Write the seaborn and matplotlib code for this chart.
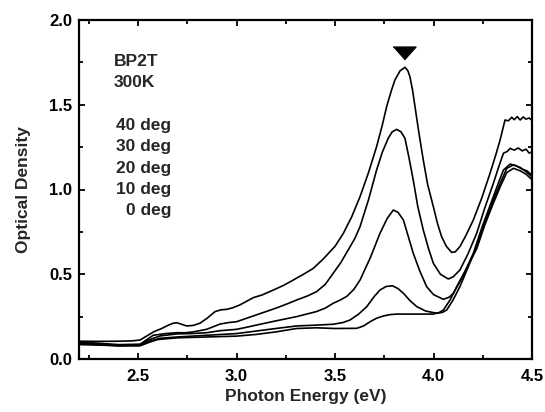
import numpy as np
import pandas as pd
import seaborn as sns
import matplotlib.pyplot as plt
from matplotlib.ticker import MultipleLocator

# values (photon energy in eV, optical density)
e_40 = [2.20, 2.30, 2.40, 2.47, 2.51, 2.55, 2.58, 2.62, 2.645, 2.675, 2.696, 2.72, 2.747,
        2.78, 2.814, 2.85, 2.89, 2.92, 2.95, 2.98, 3.017, 3.05, 3.085, 3.13, 3.187, 3.24,
        3.288, 3.34, 3.39, 3.44, 3.50, 3.542, 3.585, 3.627, 3.67, 3.711, 3.74, 3.762,
        3.785, 3.804, 3.83, 3.855, 3.87, 3.88, 3.893, 3.906, 3.925, 3.948, 3.97, 3.999,
        4.02, 4.041, 4.065, 4.092, 4.11, 4.134, 4.165, 4.202, 4.245, 4.287, 4.315, 4.338,
        4.363, 4.38, 4.397, 4.41, 4.425, 4.44, 4.455, 4.47, 4.485, 4.498]
od_40 = [0.105, 0.104, 0.105, 0.107, 0.112, 0.14, 0.161, 0.18, 0.195, 0.21, 0.214, 0.205,
         0.195, 0.198, 0.211, 0.24, 0.279, 0.29, 0.293, 0.302, 0.319, 0.34, 0.362, 0.378,
         0.407, 0.435, 0.466, 0.50, 0.535, 0.59, 0.665, 0.741, 0.84, 0.958, 1.10, 1.253,
         1.38, 1.489, 1.58, 1.646, 1.70, 1.721, 1.70, 1.666, 1.59, 1.489, 1.34, 1.174,
         1.03, 0.899, 0.80, 0.722, 0.665, 0.629, 0.632, 0.663, 0.73, 0.820, 0.95, 1.096,
         1.20, 1.292, 1.410, 1.405, 1.426, 1.412, 1.430, 1.410, 1.428, 1.415, 1.422, 1.410]

e_30 = [2.20, 2.30, 2.40, 2.51, 2.545, 2.577, 2.64, 2.696, 2.74, 2.78, 2.848, 2.916, 2.96,
        3.0, 3.05, 3.1, 3.15, 3.2, 3.25, 3.305, 3.36, 3.406, 3.45, 3.491, 3.53, 3.56, 3.6,
        3.627, 3.67, 3.711, 3.74, 3.77, 3.79, 3.813, 3.835, 3.855, 3.875, 3.897, 3.92,
        3.948, 3.975, 3.999, 4.035, 4.075, 4.10, 4.134, 4.175, 4.219, 4.26, 4.304, 4.33,
        4.355, 4.375, 4.389, 4.41, 4.43, 4.45, 4.47, 4.485, 4.498]
od_30 = [0.10, 0.093, 0.085, 0.087, 0.115, 0.14, 0.15, 0.155, 0.155, 0.16, 0.175, 0.206,
         0.215, 0.22, 0.24, 0.26, 0.28, 0.30, 0.322, 0.348, 0.372, 0.397, 0.44, 0.506,
         0.57, 0.63, 0.71, 0.781, 0.94, 1.115, 1.22, 1.302, 1.34, 1.355, 1.34, 1.302,
         1.19, 1.056, 0.90, 0.761, 0.65, 0.565, 0.50, 0.472, 0.485, 0.525, 0.62, 0.741,
         0.89, 1.037, 1.13, 1.214, 1.225, 1.243, 1.232, 1.245, 1.228, 1.238, 1.215, 1.220]

e_20 = [2.20, 2.30, 2.40, 2.51, 2.56, 2.611, 2.696, 2.77, 2.848, 2.916, 3.0, 3.05, 3.1,
        3.2, 3.305, 3.406, 3.45, 3.491, 3.53, 3.56, 3.595, 3.627, 3.68, 3.728, 3.765,
        3.796, 3.82, 3.847, 3.87, 3.897, 3.93, 3.965, 4.0, 4.05, 4.08, 4.101, 4.15, 4.202,
        4.25, 4.304, 4.33, 4.355, 4.389, 4.42, 4.45, 4.475, 4.498]
od_20 = [0.095, 0.088, 0.08, 0.085, 0.115, 0.136, 0.148, 0.15, 0.155, 0.167, 0.175, 0.187,
         0.20, 0.225, 0.25, 0.28, 0.30, 0.329, 0.35, 0.37, 0.41, 0.466, 0.60, 0.741, 0.83,
         0.879, 0.865, 0.820, 0.73, 0.624, 0.52, 0.427, 0.38, 0.352, 0.365, 0.388, 0.49,
         0.624, 0.79, 0.958, 1.04, 1.115, 1.150, 1.14, 1.12, 1.11, 1.086]

e_10 = [2.20, 2.30, 2.40, 2.51, 2.56, 2.61, 2.70, 2.85, 3.0, 3.1, 3.2, 3.305, 3.406, 3.49,
        3.54, 3.576, 3.62, 3.661, 3.70, 3.728, 3.76, 3.792, 3.82, 3.847, 3.88, 3.915, 3.96,
        4.016, 4.045, 4.067, 4.10, 4.134, 4.175, 4.219, 4.26, 4.304, 4.34, 4.372, 4.406,
        4.44, 4.47, 4.498]
od_10 = [0.09, 0.085, 0.078, 0.08, 0.105, 0.122, 0.13, 0.14, 0.15, 0.165, 0.18, 0.195, 0.20,
         0.205, 0.215, 0.230, 0.265, 0.309, 0.37, 0.407, 0.428, 0.432, 0.415, 0.388, 0.345,
         0.309, 0.283, 0.270, 0.275, 0.289, 0.35, 0.427, 0.54, 0.663, 0.80, 0.938, 1.04,
         1.125, 1.145, 1.13, 1.105, 1.077]

e_0 = [2.20, 2.30, 2.40, 2.51, 2.56, 2.60, 2.70, 2.85, 3.0, 3.1, 3.2, 3.305, 3.406, 3.5,
       3.61, 3.645, 3.678, 3.71, 3.746, 3.78, 3.813, 3.90, 3.999, 4.03, 4.05, 4.085, 4.118,
       4.17, 4.219, 4.26, 4.304, 4.34, 4.372, 4.406, 4.44, 4.47, 4.498]
od_0 = [0.085, 0.082, 0.078, 0.078, 0.10, 0.115, 0.125, 0.13, 0.135, 0.145, 0.16, 0.18,
        0.184, 0.18, 0.181, 0.195, 0.220, 0.24, 0.254, 0.262, 0.265, 0.265, 0.265, 0.275,
        0.289, 0.35, 0.427, 0.54, 0.65, 0.79, 0.92, 1.02, 1.10, 1.125, 1.11, 1.09, 1.06]

angles = ["40 deg", "30 deg", "20 deg", "10 deg", "0 deg"]
energies = [e_40, e_30, e_20, e_10, e_0]
densities = [od_40, od_30, od_20, od_10, od_0]

sample_lines = ["BP2T", "300K"]
peak_energy = 3.85
peak_mark = 1.807

df = pd.concat([pd.DataFrame({"energy": e, "od": od, "angle": a})
                for e, od, a in zip(energies, densities, angles)], ignore_index=True)

sns.set_style("ticks")
plt.rcParams["font.family"] = ["Liberation Sans", "DejaVu Sans"]
plt.rcParams["font.weight"] = "bold"

fig = plt.figure(figsize=(5.45, 4.12), dpi=100)
ax = fig.add_axes([79 / 545, 1 - 359 / 412, 453 / 545, 339 / 412])

sns.lineplot(data=df, x="energy", y="od", hue="angle", palette=["black"] * 5,
             estimator=None, sort=True, legend=False, linewidth=1.2, ax=ax)

# peak marker (flattened down-pointing triangle)
ax.plot([peak_energy], [peak_mark], linestyle="none", color="black",
        marker=[(-1, 0.56), (1, 0.56), (0, -0.56)], markersize=16.5)

for i, s in enumerate(sample_lines):
    ax.text(2.378, 1.729 - i * 0.124, s, fontsize=12.5, fontweight="bold",
            ha="left", va="baseline")
for i, a in enumerate(angles):
    ax.text(2.668, 1.351 - i * 0.1254, a, fontsize=12.5, fontweight="bold",
            ha="right", va="baseline")

ax.set_xlim(2.2, 4.5)
ax.set_ylim(0, 2.0)
ax.xaxis.set_major_locator(MultipleLocator(0.5))
ax.xaxis.set_minor_locator(MultipleLocator(0.25))
ax.yaxis.set_major_locator(MultipleLocator(0.5))
ax.yaxis.set_minor_locator(MultipleLocator(0.25))
ax.tick_params(which="both", direction="in", top=True, right=True, width=1.3,
               colors="black")
ax.tick_params(which="major", length=4.5)
ax.tick_params(which="minor", length=3)
ax.tick_params(axis="x", which="major", pad=7.5, labelsize=12)
ax.tick_params(axis="y", which="major", pad=5, labelsize=12)
for lab in ax.get_xticklabels() + ax.get_yticklabels():
    lab.set_fontweight("bold")
for sp in ax.spines.values():
    sp.set_linewidth(1.6)
    sp.set_color("black")

ax.set_xlabel("Photon Energy (eV)", fontsize=12.5, fontweight="bold", labelpad=3)
ax.set_ylabel("Optical Density", fontsize=12.5, fontweight="bold", labelpad=13)

fig.savefig("out.png", dpi=100)
